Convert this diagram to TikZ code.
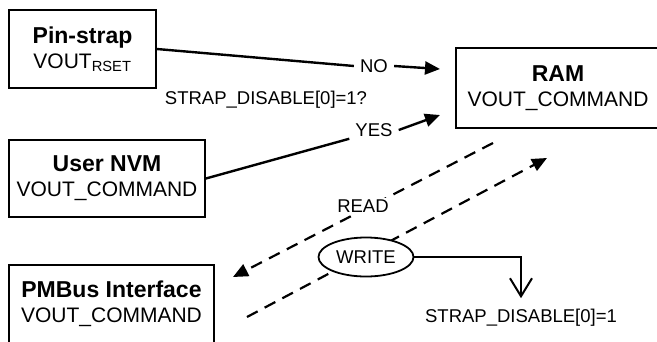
\documentclass[tikz,border=0pt]{standalone}
\usepackage{fontspec}
\setmainfont{Liberation Sans}
\usetikzlibrary{positioning, arrows.meta, shapes.geometric}

\newcommand{\boxtitle}[1]{{\fontsize{23}{26}\selectfont\bfseries #1}}

\begin{document}
\begin{tikzpicture}[x=1pt, y=-1pt,
  regbox/.style={draw, line width=1.8pt, inner sep=0pt, align=center,
                 font=\fontsize{21}{25}\selectfont},
  lbl/.style={font=\fontsize{18.5}{21}\selectfont, inner sep=2pt},
  gaplbl/.style={lbl, inner xsep=6pt},
  wline/.style={line width=2.4pt},
  arr/.style={-{Triangle[length=15pt, width=13pt]}, line width=2.4pt},
  dasharr/.style={-{Triangle[length=15pt, width=13pt]}, line width=2.2pt,
                  dash pattern=on 12pt off 8pt},
  openarr/.style={-{Straight Barb[length=18pt, width=22pt, line width=2pt]},
                  line width=2pt},
  oval/.style={ellipse, draw, line width=1.8pt, fill=white, inner sep=0pt,
               minimum width=95pt, minimum height=39pt,
               font=\fontsize{18.5}{21}\selectfont},
]
\useasboundingbox (0,0) rectangle (657,341);

% === Nodes ===
\node[regbox, minimum width=147pt, minimum height=78pt] (pin) at (82.5,49)
  {\boxtitle{Pin-strap}\\VOUT\textsubscript{RSET}};
\node[regbox, minimum width=196pt, minimum height=77pt] (nvm) at (107,178.5)
  {\boxtitle{User NVM}\\VOUT\_COMMAND};
\node[regbox, minimum width=205pt, minimum height=78pt] (pmbus) at (111.5,304)
  {\boxtitle{PMBus Interface}\\VOUT\_COMMAND};
\node[regbox, minimum width=204pt, minimum height=80pt] (ram) at (558,88)
  {\boxtitle{RAM}\\VOUT\_COMMAND};

\node[gaplbl] (no) at (374,66) {NO};
\node[gaplbl] (yes) at (374,130) {YES};
\node[lbl] (cond) at (266,100) {STRAP\_DISABLE[0]=1?};
\node[lbl, inner sep=0pt] (set) at (521,318) {STRAP\_DISABLE[0]=1};

\coordinate (noend) at (440,69);
\coordinate (yesend) at (440,115);
\coordinate (readbeg) at (493,143);
\coordinate (readend) at (233,277);
\coordinate (writebeg) at (247,317);
\coordinate (writeend) at (547,158);

% === Arrows ===
\draw[wline] (pin.east) -- (no.west);
\draw[arr] (no.east) -- (noend);
\draw[wline] (nvm.east) -- (yes.south west);
\draw[arr] (yes.east) -- (yesend);

\draw[dasharr] (readbeg) -- node[lbl, fill=white, pos=0.5, yshift=4pt] {READ} (readend);
\draw[dasharr] (writebeg) -- (writeend);

\node[oval] (write) at (366,257) {WRITE};
\draw[openarr, shorten >=11pt] (write.east) -| (set.north);

\end{tikzpicture}
\end{document}
